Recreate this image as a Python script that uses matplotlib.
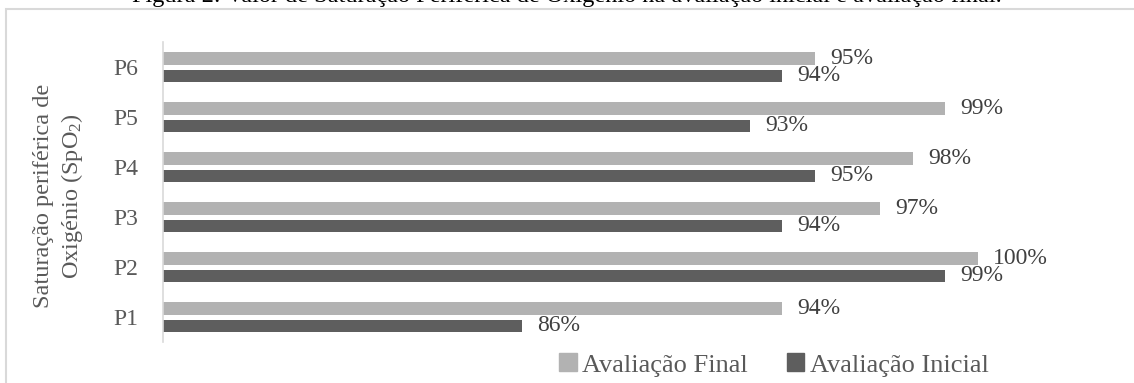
import matplotlib
matplotlib.use("Agg")
import matplotlib.pyplot as plt
from matplotlib.patches import Rectangle, Patch
import numpy as np

categories = ["P1", "P2", "P3", "P4", "P5", "P6"]
final_vals = [0.94, 1.00, 0.97, 0.98, 0.99, 0.95]
initial_vals = [0.86, 0.99, 0.94, 0.95, 0.93, 0.94]
series_names = ["Avaliação Final", "Avaliação Inicial"]
title_text = "Figura 2: Valor de Saturação Periférica de Oxigénio na avaliação inicial e avaliação final."
ylabel_text = "Saturação periférica de\nOxigénio (SpO$_2$)"

plt.rcParams['font.family'] = ['Liberation Serif', 'DejaVu Serif']
plt.rcParams['mathtext.fontset'] = 'custom'
plt.rcParams['mathtext.rm'] = 'Liberation Serif'
plt.rcParams['mathtext.it'] = 'Liberation Serif:italic'

c_final = '#B2B2B2'
c_init = '#5E5E5E'
txt = '#404040'
grey_txt = '#595959'

fig = plt.figure(figsize=(11.34, 3.83), dpi=100)
fig.patches.append(Rectangle((6/1134, -0.1), 1.2, 1.0 + 0.1 - 9/383,
                             transform=fig.transFigure, fill=False,
                             edgecolor='#D9D9D9', linewidth=1.5))
fig.text(0.5, 1.0 - 2/383, title_text, ha='center', va='baseline',
         fontsize=17.5, color='black')

ax = fig.add_axes([163/1134, 1-342/383, (978-163)/1134, 300/383])
y = np.arange(len(categories))
h = 0.25
off = 0.175
ax.barh(y + off, final_vals, height=h, color=c_final, label=series_names[0])
ax.barh(y - off, initial_vals, height=h, color=c_init, label=series_names[1])
ax.set_xlim(0.75, 1.0)
ax.set_ylim(-0.5, 5.5)

for yi, v in zip(y, final_vals):
    ax.annotate(f"{v*100:.0f}%", (v, yi + off), xytext=(11, 0), textcoords='offset points',
                ha='left', va='center', fontsize=17, color=txt)
for yi, v in zip(y, initial_vals):
    ax.annotate(f"{v*100:.0f}%", (v, yi - off), xytext=(11, 0), textcoords='offset points',
                ha='left', va='center', fontsize=17, color=txt)

ax.set_yticks(y)
ax.set_yticklabels(categories, fontsize=17, color=grey_txt)
ax.tick_params(axis='y', length=0, pad=18)
ax.set_xticks([])
for s in ['top', 'right', 'bottom']:
    ax.spines[s].set_visible(False)
ax.spines['left'].set_color('#D9D9D9')
ax.spines['left'].set_linewidth(1.2)
ax.patch.set_alpha(0)

fig.text(59/1134, 1-196/383, ylabel_text, rotation=90, ha='center', va='center',
         fontsize=17.5, color=grey_txt, linespacing=1.3, multialignment='center')

handles = [Patch(color=c_final), Patch(color=c_init)]
fig.legend(handles, series_names, loc='center', bbox_to_anchor=(774/1134, 1-365/383),
           ncol=2, frameon=False, fontsize=19, handlelength=0.65, handleheight=0.65,
           handletextpad=0.2, columnspacing=1.5, labelcolor=grey_txt)

fig.savefig("out.png", dpi=100)
